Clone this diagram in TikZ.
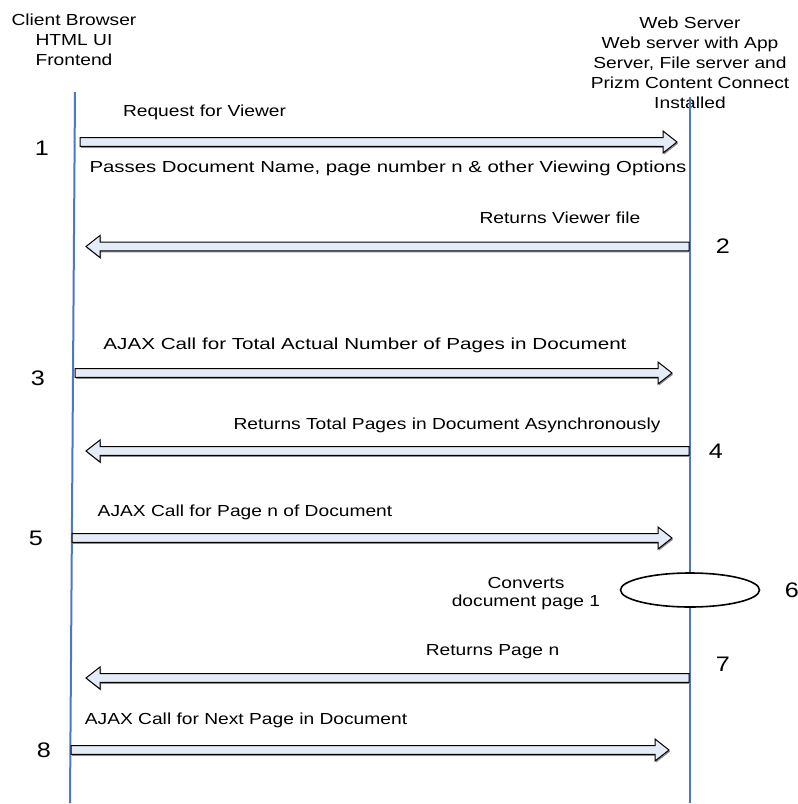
\documentclass[tikz,border=0pt]{standalone}
\usepackage{fontspec}
\setmainfont[FakeStretch=1.2]{Liberation Sans}
\usetikzlibrary{calc,shapes.geometric}
\definecolor{lifeblue}{HTML}{4A78C8}
\definecolor{arrowfill}{HTML}{E4ECF7}
\tikzset{
  lifeline/.style={draw=lifeblue, line width=2pt},
  barrow/.style={draw=black, line width=1pt, fill=arrowfill, line join=miter},
  bshadow/.style={fill=black!45, draw=none},
  lbl/.style={inner sep=0pt, font=\fontsize{16}{19}\selectfont},
  hdr/.style={inner sep=0pt, align=center, font=\fontsize{16}{20}\selectfont},
  num/.style={inner sep=0pt, font=\fontsize{21}{24}\selectfont},
}
\newcommand\blockarrow[3]{%
  \path[bshadow] let \p1=(#1),\p2=(#2) in
   ({\x1+1pt},{\y1+4.3pt-1.6pt}) -- ({\x2-(#3)*14pt+1pt},{\y1+4.3pt-1.6pt}) -- ({\x2-(#3)*14pt+1pt},{\y1+11pt-1.6pt}) -- ({\x2+1pt},{\y1-1.6pt}) -- ({\x2-(#3)*14pt+1pt},{\y1-11pt-1.6pt}) -- ({\x2-(#3)*14pt+1pt},{\y1-4.3pt-1.6pt}) -- ({\x1+1pt},{\y1-4.3pt-1.6pt}) -- cycle;
  \path[barrow] let \p1=(#1),\p2=(#2) in
   (\x1,{\y1+4.3pt}) -- ({\x2-(#3)*14pt},{\y1+4.3pt}) -- ({\x2-(#3)*14pt},{\y1+11pt}) -- (\x2,\y1) -- ({\x2-(#3)*14pt},{\y1-11pt}) -- ({\x2-(#3)*14pt},{\y1-4.3pt}) -- (\x1,{\y1-4.3pt}) -- cycle;
}
\begin{document}
\begin{tikzpicture}[x=1pt,y=-1pt]
\useasboundingbox[fill=white] (0,0) rectangle (798,804);

% headers
\node[hdr] (client) at (74,40) {Client Browser\\HTML UI\\Frontend};
\node[hdr] (server) at (690,63) {Web Server\\Web server with App\\Server, File server and\\Prizm Content Connect\\Installed};

% lifelines
\coordinate (ltop) at (75,92);
\coordinate (lbot) at (70,803);
\coordinate (rtop) at (690,97);
\coordinate (rbot) at (690,803);
\draw[lifeline] (ltop) -- (lbot);
\draw[lifeline] (rtop) -- (rbot);

% ellipse (step 6)
\node[draw=black, line width=1.6pt, fill=white, ellipse, minimum width=139pt, minimum height=34pt, inner sep=0pt] (conv) at (690,590) {};

% arrow end points
\coordinate (a1s) at (80,142);  \coordinate (a1e) at (677,142);
\coordinate (a2s) at (689,246.5); \coordinate (a2e) at (86,246.5);
\coordinate (a3s) at (75,373);  \coordinate (a3e) at (672,373);
\coordinate (a4s) at (689,451); \coordinate (a4e) at (86,451);
\coordinate (a5s) at (72,538);  \coordinate (a5e) at (672,538);
\coordinate (a7s) at (689,678); \coordinate (a7e) at (86,678);
\coordinate (a8s) at (71,750);  \coordinate (a8e) at (669,750);

\blockarrow{a1s}{a1e}{1}
\blockarrow{a2s}{a2e}{-1}
\blockarrow{a3s}{a3e}{1}
\blockarrow{a4s}{a4e}{-1}
\blockarrow{a5s}{a5e}{1}
\blockarrow{a7s}{a7e}{-1}
\blockarrow{a8s}{a8e}{1}

% labels
\node[lbl] (t1) at (204.5,112) {Request for Viewer};
\node[lbl] (t1b) at (388,168) {\scalebox{1.06}[1]{Passes Document Name, page number n \& other Viewing Options}};
\node[lbl] (t2) at (560,218) {Returns Viewer file};
\node[lbl] (t3) at (365,345) {\scalebox{1.075}[1]{AJAX Call for Total Actual Number of Pages in Document}};
\node[lbl] (t4) at (447,425) {Returns Total Pages in Document Asynchronously};
\node[lbl] (t5) at (245,512) {AJAX Call for Page n of Document};
\node[lbl, align=center, font=\fontsize{16}{18}\selectfont] (t6) at (526,594) {Converts\\document page 1};
\node[lbl] (t7) at (492.5,652) {Returns Page n};
\node[lbl] (t8) at (246,720) {AJAX Call for Next Page in Document};

% step numbers
\node[num] (n1) at (42,148) {1};
\node[num] (n2) at (723,246) {2};
\node[num] (n3) at (38,378) {3};
\node[num] (n4) at (716,451) {4};
\node[num] (n5) at (36,538) {5};
\node[num] (n6) at (792,590) {6};
\node[num] (n7) at (723,664) {7};
\node[num] (n8) at (44,750) {8};
\end{tikzpicture}
\end{document}
